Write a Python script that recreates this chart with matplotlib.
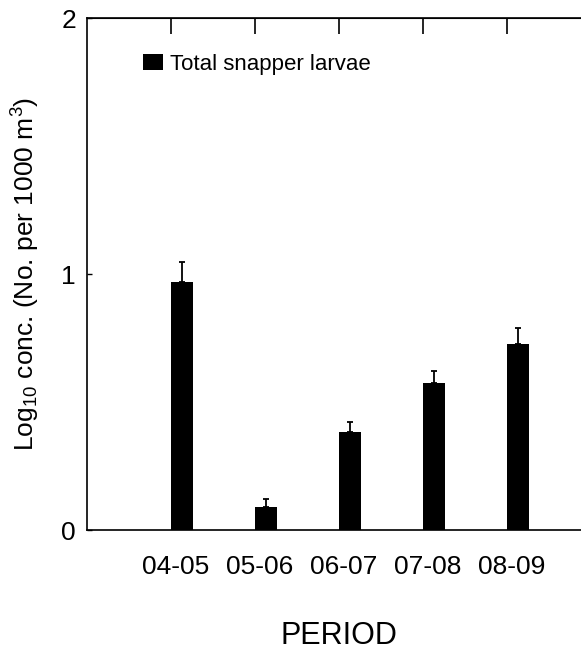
import numpy as np
import matplotlib
matplotlib.use('Agg')
import matplotlib.pyplot as plt

plt.rcParams['font.family'] = ['Liberation Sans', 'DejaVu Sans']
plt.rcParams['mathtext.default'] = 'regular'

periodos = ['04-05', '05-06', '06-07', '07-08', '08-09']
conc = [0.969, 0.091, 0.382, 0.573, 0.727]
err = [0.077, 0.030, 0.041, 0.047, 0.061]

fig = plt.figure(figsize=(5.81, 6.55), dpi=100)
ax = fig.add_axes([87 / 581, 125 / 655, 504 / 581, 512 / 655])

x = np.arange(len(periodos))
ancho = 0.26
ax.bar(x, conc, width=ancho, align='edge', color='black', label='Total snapper larvae')
ax.errorbar(x + ancho / 2, conc, yerr=[np.zeros(len(err)), err], fmt='none',
            ecolor='black', elinewidth=1.3, capsize=2.5, capthick=1.3)

ax.set_xlim(-1, 5)
ax.set_ylim(0, 2)
ax.set_yticks([0, 1, 2])
ax.set_yticklabels(['0', '1', '2'], fontsize=19)
ax.set_xticks(x + 0.05)
ax.set_xticklabels(periodos, fontsize=19)
ax.tick_params(axis='x', length=0, pad=18)
ax.tick_params(axis='y', direction='in', length=3.6, width=1.0, pad=8)

arriba = ax.secondary_xaxis('top')
arriba.set_xticks(x)
arriba.set_xticklabels([])
arriba.tick_params(direction='in', length=11.5, width=1.2)

for lado in ['left', 'top', 'bottom']:
    ax.spines[lado].set_linewidth(1.2)
ax.spines['right'].set_visible(False)

ax.set_ylabel(r'Log$_{10}$ conc. (No. per 1000 m$^{3}$)', fontsize=19, labelpad=14)
ax.set_xlabel('PERIOD', fontsize=22, labelpad=30)

ax.legend(loc='center left', bbox_to_anchor=(0.111, 0.91), frameon=False,
          fontsize=16, handlelength=0.9, handleheight=0.72, handletextpad=0.3,
          borderpad=0, borderaxespad=0)

fig.savefig('out.png', dpi=100)
